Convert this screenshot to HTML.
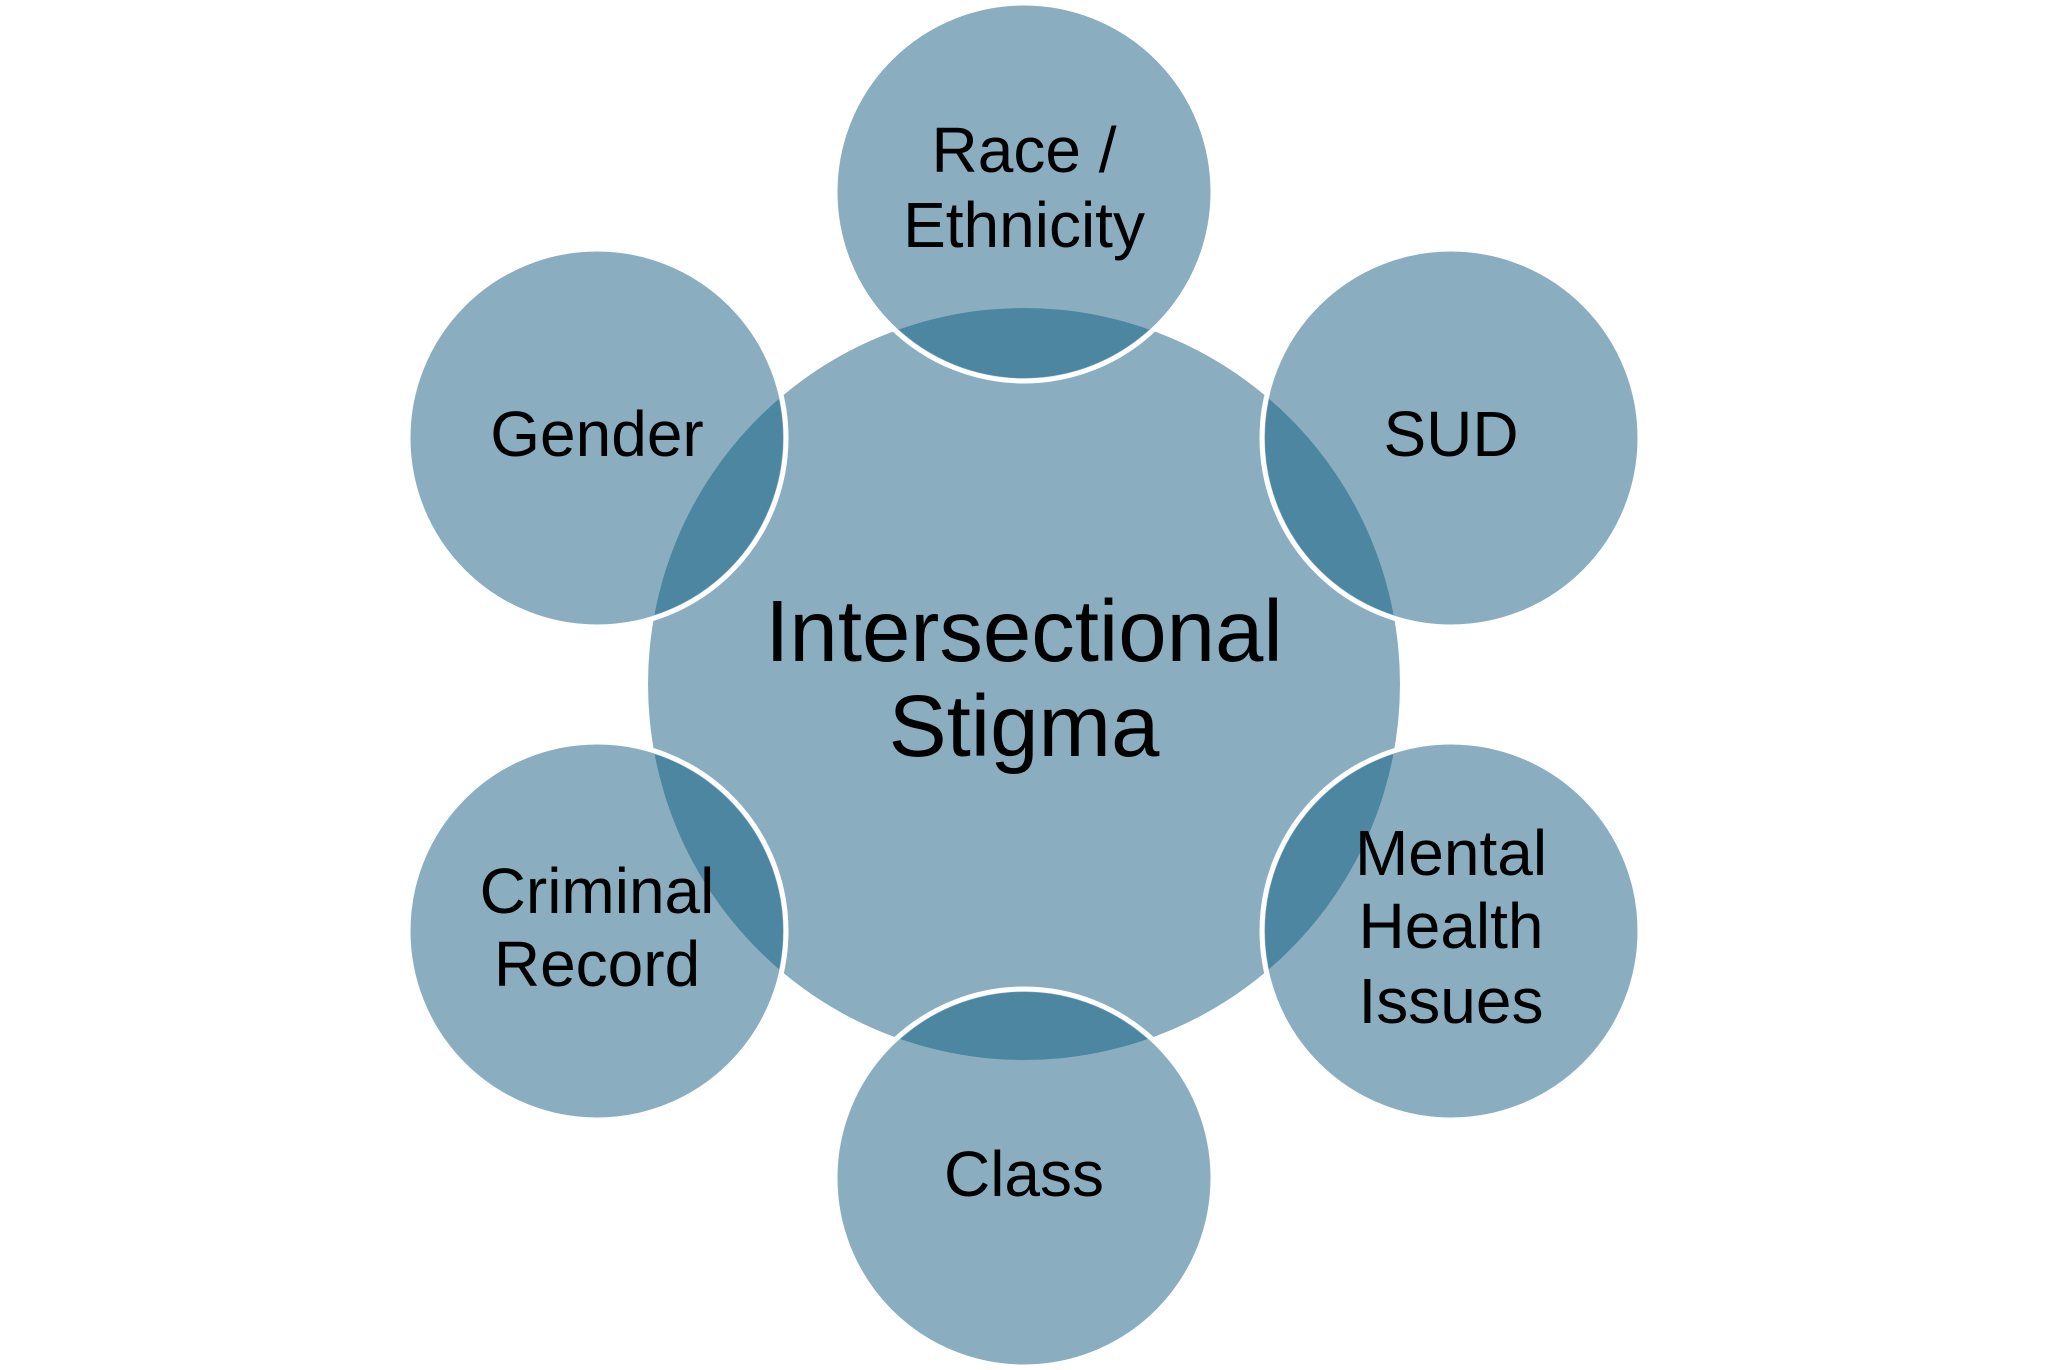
<!DOCTYPE html>
<html><head><meta charset="utf-8"><style>
html,body{margin:0;padding:0;background:#fff;}
svg{display:block;}
text{font-family:"Liberation Sans","DejaVu Sans",sans-serif;fill:#000;text-anchor:middle;}
</style></head><body>
<svg width="2048" height="1370" viewBox="0 0 2048 1370" xmlns="http://www.w3.org/2000/svg">
<defs><clipPath id="c"><circle cx="1024" cy="684" r="376"/></clipPath></defs>
<circle cx="1024" cy="684" r="376" fill="#8AAEC0"/>
<g fill="#8AAEC0" stroke="#fff" stroke-width="5">
<circle cx="1024" cy="192" r="189"/>
<circle cx="597" cy="438" r="189"/>
<circle cx="1451" cy="438" r="189"/>
<circle cx="597" cy="931" r="189"/>
<circle cx="1451" cy="931" r="189"/>
<circle cx="1024" cy="1178" r="189"/>
</g>
<g fill="#4D86A0" clip-path="url(#c)">
<circle cx="1024" cy="192" r="186"/>
<circle cx="597" cy="438" r="186"/>
<circle cx="1451" cy="438" r="186"/>
<circle cx="597" cy="931" r="186"/>
<circle cx="1451" cy="931" r="186"/>
<circle cx="1024" cy="1178" r="186"/>
</g>
<text x="1024" y="661" font-size="87">Intersectional</text>
<text x="1024" y="756" font-size="87">Stigma</text>
<g font-size="64">
<text x="1024" y="172">Race /</text>
<text x="1024" y="247">Ethnicity</text>
<text x="597" y="456">Gender</text>
<text x="1451" y="456">SUD</text>
<text x="597" y="913">Criminal</text>
<text x="597" y="986">Record</text>
<text x="1451" y="875">Mental</text>
<text x="1451" y="948">Health</text>
<text x="1451" y="1023">Issues</text>
<text x="1024" y="1196">Class</text>
</g>
</svg>
</body></html>
